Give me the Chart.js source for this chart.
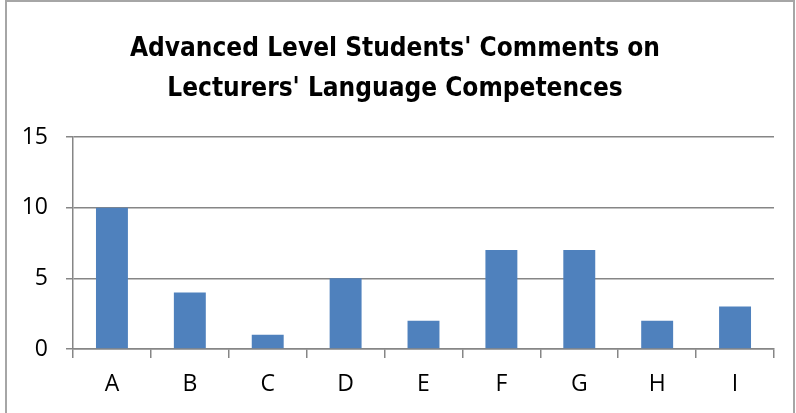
<!DOCTYPE html>
<html>
<head>
<meta charset="utf-8">
<script src="https://cdn.jsdelivr.net/npm/chart.js@4"></script>
<style>
  html, body { margin: 0; padding: 0; background: #fff; }
  #frame {
    position: absolute; left: 0; top: 0; width: 796px; height: 413px;
  }
  #edge {
    position: absolute; left: 5px; top: 0; width: 790px; height: 413px;
    border-left: 2px solid #a6a6a6; border-top: 2px solid #a6a6a6; border-right: 2px solid #a6a6a6;
    box-sizing: border-box;
  }
  canvas { position: absolute; left: 0; top: 0; }
</style>
</head>
<body>
<div id="frame">
  <div id="edge"></div>
  <canvas id="comments-chart" width="796" height="413"></canvas>
</div>
<script>
  // categories and counts
  const categories = ['A', 'B', 'C', 'D', 'E', 'F', 'G', 'H', 'I'];
  const counts = [10, 4, 1, 5, 2, 7, 7, 2, 3];
  const yTicks = [0, 5, 10, 15];

  const axisGray = '#868686';
  const labelFont = { family: "'Open Sans', 'Liberation Sans', sans-serif", size: 23 };

  new Chart(document.getElementById('comments-chart'), {
    type: 'bar',
    data: {
      labels: categories,
      datasets: [{
        data: counts,
        backgroundColor: '#4F81BD',
        barPercentage: 0.41,
        categoryPercentage: 1.0,
      }],
    },
    options: {
      responsive: false,
      animation: false,
      // a little left padding nudges the title toward the middle of the frame
      layout: { padding: { left: 16, right: 22, top: 0, bottom: 0 } },
      plugins: {
        legend: { display: false },
        tooltip: { enabled: false },
        title: {
          display: true,
          text: ["Advanced Level Students' Comments on", "Lecturers' Language Competences"],
          color: '#000',
          font: { family: "'Liberation Sans Narrow', 'DejaVu Sans Condensed', sans-serif", size: 26, weight: 'bold', lineHeight: 1.54 },
          padding: { top: 29, bottom: 28 },
        },
      },
      scales: {
        x: {
          offset: true,
          grid: { display: true, drawOnChartArea: false, offset: true, tickLength: 9, color: axisGray, lineWidth: 1.5 },
          border: { display: true, color: axisGray, width: 1.5 },
          ticks: { color: '#000', font: labelFont, padding: 13 },
          afterFit: (scale) => { scale.height = 64; },
        },
        y: {
          min: 0,
          max: 15,
          afterBuildTicks: (scale) => { scale.ticks = yTicks.map(v => ({ value: v })); },
          grid: { color: axisGray, lineWidth: 1.5, tickLength: 7 },
          border: { display: true, color: axisGray, width: 1.5 },
          ticks: { color: '#000', font: labelFont, padding: 18 },
          afterFit: (scale) => { scale.width = 57; },
        },
      },
    },
  });
</script>
</body>
</html>
